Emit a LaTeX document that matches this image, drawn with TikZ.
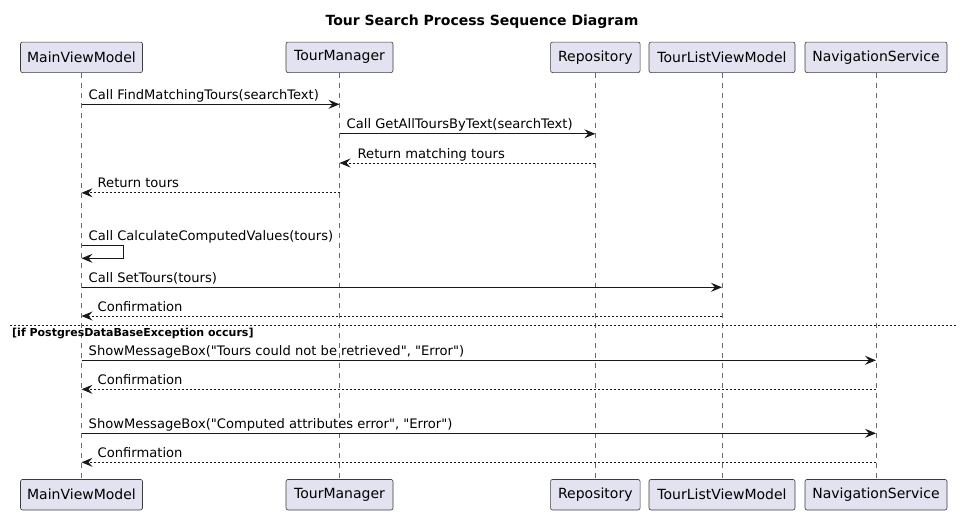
\documentclass[tikz,border=0pt]{standalone}
\usepackage{fontspec}
\setmainfont{DejaVu Sans}
\usetikzlibrary{arrows.meta}
\definecolor{pfill}{HTML}{E2E2F0}
\definecolor{pline}{HTML}{181818}
\newcommand{\qq}{\textquotedbl}
\begin{document}
\begin{tikzpicture}[x=1pt,y=-1pt,
  part/.style={draw=pline!85, fill=pfill, rounded corners=2pt, line width=0.6pt,
    font=\fontsize{14}{16}\selectfont, inner sep=0pt, minimum height=30.5pt},
  life/.style={draw=pline!65, line width=0.5pt, dash pattern=on 5pt off 5pt},
  msg/.style={draw=pline, line width=0.9pt, -{Stealth[length=11pt,width=9pt,inset=4pt]}},
  ret/.style={msg, dash pattern=on 2pt off 2pt},
  lbl/.style={font=\fontsize{13.1}{15}\selectfont, inner sep=0pt, anchor=base west},
  ttl/.style={font=\bfseries\fontsize{14}{16}\selectfont, inner sep=0pt},
  divlbl/.style={font=\bfseries\fontsize{11}{13}\selectfont, inner sep=0pt, anchor=base west},
  divline/.style={draw=pline, line width=0.8pt, dash pattern=on 2pt off 2pt}]
\useasboundingbox (0,0) rectangle (963,515);

\node[ttl] (title) at (482,22) {Tour Search Process Sequence Diagram};

% participants (top)
\node[part, minimum width=122pt] (mT) at (81.5,57.3) {MainViewModel};
\node[part, minimum width=107pt] (tT) at (339.5,57.3) {TourManager};
\node[part, minimum width=89.5pt] (rT) at (595.3,57.3) {Repository};
\node[part, minimum width=146pt] (lT) at (722,57.3) {TourListViewModel};
\node[part, minimum width=142pt] (nT) at (876,57.3) {NavigationService};
% participants (bottom)
\node[part, minimum width=122pt] (mB) at (81.5,494.7) {MainViewModel};
\node[part, minimum width=107pt] (tB) at (339.5,494.7) {TourManager};
\node[part, minimum width=89.5pt] (rB) at (595.3,494.7) {Repository};
\node[part, minimum width=146pt] (lB) at (722,494.7) {TourListViewModel};
\node[part, minimum width=142pt] (nB) at (876,494.7) {NavigationService};

% lifelines
\draw[life] (mT) -- (mB);
\draw[life] (tT) -- (tB);
\draw[life] (rT) -- (rB);
\draw[life] (lT) -- (lB);
\draw[life] (nT) -- (nB);

% row coordinates
\coordinate (y1) at (0,104.3);
\coordinate (y2) at (0,133.8);
\coordinate (y3) at (0,163);
\coordinate (y4) at (0,192.8);
\coordinate (y5a) at (0,245.7);
\coordinate (y5b) at (0,258.3);
\coordinate (y6) at (0,287.3);
\coordinate (y7) at (0,316);
\coordinate (yd) at (0,325);
\coordinate (y8) at (0,360.3);
\coordinate (y9) at (0,389.3);
\coordinate (y10) at (0,433.3);
\coordinate (y11) at (0,462.3);
\coordinate (selfx) at (123.3,0);
\coordinate (dl) at (10,0);
\coordinate (dr) at (957,0);

% messages
\draw[msg] (mT |- y1) -- (tT |- y1);
\node[lbl] (l1) at ([xshift=7pt,yshift=5pt]mT |- y1) {Call FindMatchingTours(searchText)};

\draw[msg] (tT |- y2) -- (rT |- y2);
\node[lbl] (l2) at ([xshift=7pt,yshift=5pt]tT |- y2) {Call GetAllToursByText(searchText)};

\draw[ret] (rT |- y3) -- (tT |- y3);
\node[lbl] (l3) at ([xshift=18pt,yshift=5pt]tT |- y3) {Return matching tours};

\draw[ret] (tT |- y4) -- (mT |- y4);
\node[lbl] (l4) at ([xshift=16pt,yshift=5pt]mT |- y4) {Return tours};

\draw[msg] (mT |- y5a) -- (selfx |- y5a) -- (selfx |- y5b) -- (mT |- y5b);
\node[lbl] (l5) at ([xshift=7pt,yshift=5.5pt]mT |- y5a) {Call CalculateComputedValues(tours)};

\draw[msg] (mT |- y6) -- (lT |- y6);
\node[lbl] (l6) at ([xshift=7pt,yshift=5pt]mT |- y6) {Call SetTours(tours)};

\draw[ret] (lT |- y7) -- (mT |- y7);
\node[lbl] (l7) at ([xshift=16pt,yshift=5pt]mT |- y7) {Confirmation};

% divider
\draw[divline] (dl |- yd) -- (dr |- yd);
\node[divlbl] (dlabel) at (12,336) {[if PostgresDataBaseException occurs]};

\draw[msg] (mT |- y8) -- (nT |- y8);
\node[lbl] (l8) at ([xshift=7pt,yshift=5pt]mT |- y8) {ShowMessageBox(\qq Tours could not be retrieved\qq, \qq Error\qq)};

\draw[ret] (nT |- y9) -- (mT |- y9);
\node[lbl] (l9) at ([xshift=16pt,yshift=5pt]mT |- y9) {Confirmation};

\draw[msg] (mT |- y10) -- (nT |- y10);
\node[lbl] (l10) at ([xshift=7pt,yshift=5pt]mT |- y10) {ShowMessageBox(\qq Computed attributes error\qq, \qq Error\qq)};

\draw[ret] (nT |- y11) -- (mT |- y11);
\node[lbl] (l11) at ([xshift=16pt,yshift=5pt]mT |- y11) {Confirmation};
\end{tikzpicture}
\end{document}
